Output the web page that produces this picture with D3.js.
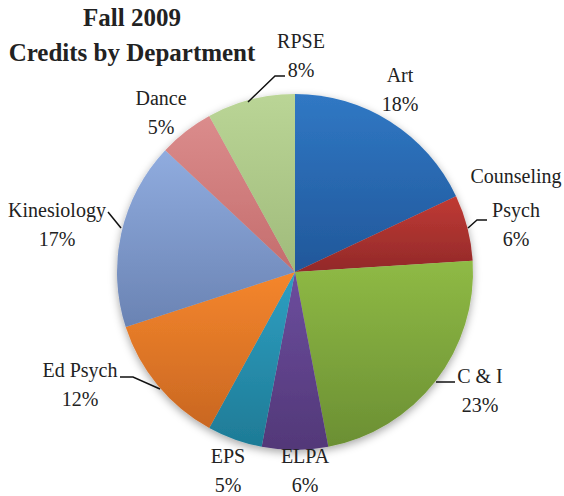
<!DOCTYPE html>
<html>
<head>
<meta charset="utf-8">
<script src="https://cdn.jsdelivr.net/npm/d3@7"></script>
<style>
  body { margin: 0; background: #fff; }
  svg text { font-family: "Liberation Serif", "DejaVu Serif", serif; fill: #222; }
</style>
</head>
<body>
<svg width="564" height="496"></svg>
<script>
var departments = ["Art", "Counseling Psych", "C & I", "ELPA", "EPS", "Ed Psych", "Kinesiology", "Dance", "RPSE"];
var credits = [18, 6, 23, 6, 5, 12, 17, 5, 8];
var lightColors = ["#3078c4", "#c03a33", "#8fba45", "#6c4d9e", "#2f9fc2", "#f5862c", "#90acdf", "#db8c8c", "#bad596"];
var darkColors  = ["#21579a", "#92292a", "#6b8f33", "#523878", "#1e7b96", "#c96722", "#6a83b3", "#c46d6d", "#a0bb7b"];

// label lines (department name split for layout) and positions
var labelLines = [["Art", "18%"], ["Counseling", "Psych", "6%"], ["C & I", "23%"], ["ELPA", "6%"], ["EPS", "5%"],
                  ["Ed Psych", "12%"], ["Kinesiology", "17%"], ["Dance", "5%"], ["RPSE", "8%"]];
var labelPos = [[400, 82], [516, 188], [480, 383], [305, 463], [228, 463], [80, 377], [57, 217], [161, 105], [301, 48]];
var leaders = [null, [[468, 228], [477, 220], [487, 220]], [[436, 382], [455, 382]], null, null,
               [[160, 389], [133, 377], [120, 377]], [[121, 228], [108, 212]], null, [[248, 102], [275, 76], [285, 76]]];

var svg = d3.select("svg");
var cx = 295, cy = 272, r = 178;
var serif = "'Liberation Serif', 'DejaVu Serif', serif";

var defs = svg.append("defs");
var f = defs.append("filter").attr("id", "shadow").attr("x", "-20%").attr("y", "-20%").attr("width", "140%").attr("height", "140%");
f.append("feDropShadow").attr("dx", 0).attr("dy", 3).attr("stdDeviation", 4).attr("flood-color", "#000").attr("flood-opacity", 0.35);

departments.forEach(function(d, i) {
  var g = defs.append("linearGradient").attr("id", "grad" + i)
    .attr("x1", 0).attr("y1", 0).attr("x2", 0).attr("y2", 1);
  g.append("stop").attr("offset", "0%").attr("stop-color", lightColors[i]);
  g.append("stop").attr("offset", "100%").attr("stop-color", darkColors[i]);
});

var pie = d3.pie().sort(null).value(function(d) { return d; });
var arc = d3.arc().innerRadius(0).outerRadius(r);

var g = svg.append("g")
  .attr("transform", "translate(" + cx + "," + cy + ")")
  .attr("filter", "url(#shadow)");

g.selectAll("path")
  .data(pie(credits))
  .enter().append("path")
  .attr("d", arc)
  .attr("fill", function(d, i) { return "url(#grad" + i + ")"; });

// title
svg.append("text").attr("x", 132).attr("y", 26).attr("text-anchor", "middle")
  .style("font-family", serif).style("font-weight", "bold").style("font-size", "25px").text("Fall 2009");
svg.append("text").attr("x", 132).attr("y", 61).attr("text-anchor", "middle")
  .style("font-family", serif).style("font-weight", "bold").style("font-size", "25px").text("Credits by Department");

// leader lines
var line = d3.line();
leaders.forEach(function(pts) {
  if (!pts) return;
  svg.append("path").attr("d", line(pts)).attr("fill", "none")
    .attr("stroke", "#111").attr("stroke-width", 1.5);
});

// labels
labelLines.forEach(function(lines, i) {
  var t = svg.append("text").attr("text-anchor", "middle")
    .style("font-family", serif).style("font-size", "20px");
  lines.forEach(function(s, j) {
    t.append("tspan").attr("x", labelPos[i][0]).attr("y", labelPos[i][1] + j * 29 - (i === 1 && j === 0 ? 5 : 0)).text(s);
  });
});
</script>
</body>
</html>
